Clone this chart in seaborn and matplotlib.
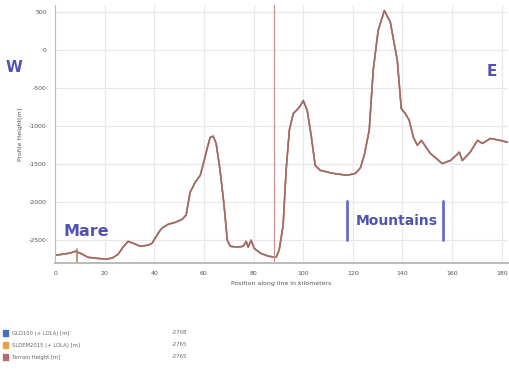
import matplotlib
matplotlib.use("Agg")
import matplotlib.pyplot as plt
import seaborn as sns
import pandas as pd

# Profile along the line: distance (km) and height (m)
position_km = [0, 2.8, 6.0, 8.1, 10.1, 13.3, 16.1, 20.2, 23.0, 25.4, 27.4, 29.4, 31.5,
               34.3, 37.5, 39.1, 40.3, 42.3, 43.5, 45.6, 48.4, 51.2, 52.8, 54.4, 56.5,
               58.5, 60.1, 61.3, 62.5, 63.7, 64.9, 66.5, 68.1, 69.4, 70.6, 73.4, 75.8,
               77.0, 77.8, 79.0, 80.2, 82.7, 85.9, 89.1, 90.3, 91.9, 93.1, 94.4, 96.0,
               98.0, 99.2, 100.0, 101.6, 103.2, 104.8, 106.9, 112.1, 117.7, 121.0, 123.0,
               124.6, 126.6, 128.2, 130.2, 132.7, 135.1, 137.9, 139.5, 141.1, 142.7,
               144.4, 146.0, 147.6, 151.2, 156.0, 159.3, 161.7, 162.9, 164.1, 167.3,
               170.2, 172.2, 175.4, 179.4, 182.3]
terrain_height = [-2700, -2685, -2670, -2645, -2670, -2725, -2735, -2750, -2735, -2685,
                  -2590, -2515, -2540, -2580, -2565, -2540, -2475, -2370, -2330, -2290,
                  -2265, -2225, -2170, -1870, -1735, -1645, -1450, -1290, -1145, -1130,
                  -1225, -1580, -2040, -2500, -2580, -2590, -2580, -2515, -2590, -2500,
                  -2605, -2670, -2710, -2725, -2630, -2300, -1580, -1050, -830, -765,
                  -710, -660, -790, -1120, -1515, -1580, -1620, -1645, -1620, -1550,
                  -1380, -1050, -260, 265, 525, 370, -130, -765, -830, -920, -1145,
                  -1250, -1185, -1355, -1490, -1450, -1380, -1340, -1450, -1340, -1185,
                  -1225, -1160, -1185, -1210]

series_names = ["GLD100 (+ LOLA) [m]", "SLDEM2015 (+ LOLA) [m]", "Terrain Height [m]"]
series_colors = ["#4a6fb5", "#e8a040", "#b86a6a"]
cursor_values = ["-2708", "-2765", "-2765"]

x_ticks = [0, 20, 40, 60, 80, 100, 120, 140, 160, 180]
y_ticks = [500, 0, -500, -1000, -1500, -2000, -2500]

cursor_km = 88.3
marker_km = 8.9

sns.set_style("white")
plt.rcParams["font.family"] = ["DejaVu Sans"]

fig = plt.figure(figsize=(5.10, 3.72), dpi=100)
ax = fig.add_axes([0.108, 0.293, 0.888, 0.694])

frames = []
for name in series_names:
    frames.append(pd.DataFrame({"km": position_km, "m": terrain_height, "series": name}))
df = pd.concat(frames, ignore_index=True)

sns.lineplot(data=df, x="km", y="m", hue="series", palette=series_colors,
             hue_order=series_names, ax=ax, legend=False, linewidth=1.1,
             sort=False, estimator=None)
# darker core on the top series
sns.lineplot(x=position_km, y=terrain_height, ax=ax, color="#8e6e6e",
             linewidth=0.5, sort=False, estimator=None)

ax.set_xlim(0, 182.5)
ax.set_ylim(-2800, 600)
ax.set_xticks(x_ticks)
ax.set_yticks(y_ticks)
ax.set_xticklabels([str(t) for t in x_ticks], fontsize=4.5, color="#555555")
ax.set_yticklabels([str(t) for t in y_ticks], fontsize=4.5, color="#555555")
ax.grid(True, color="#e8e8e8", linewidth=0.9)
ax.set_axisbelow(True)
ax.tick_params(axis="both", length=4, width=0.8, color="#aaaaaa", pad=2)
for side in ["top", "right"]:
    ax.spines[side].set_visible(False)
ax.spines["left"].set_color("#bbbbbb")
ax.spines["bottom"].set_color("#bbbbbb")
ax.spines["bottom"].set_linewidth(1.4)
ax.set_xlabel("Position along line in kilometers", fontsize=4.5, color="#555555", labelpad=3)
ax.set_ylabel("Profile Height[m]", fontsize=4.5, color="#555555", labelpad=4)

# cursor line and small marker
ax.axvline(cursor_km, color="#c89494", linewidth=0.9)
ax.plot([marker_km, marker_km], [-2800, -2620], color="#b08060", linewidth=1.2)

label_color = "#5252b4"
fig.text(14 / 510, 1 - 68 / 372, "W", fontsize=11, fontweight="bold", color=label_color,
         ha="center", va="center")
fig.text(492 / 510, 1 - 72 / 372, "E", fontsize=11, fontweight="bold", color=label_color,
         ha="center", va="center")
fig.text(86 / 510, 1 - 232 / 372, "Mare", fontsize=11.5, fontweight="bold", color=label_color,
         ha="center", va="center")
fig.text(397 / 510, 1 - 221 / 372, "Mountains", fontsize=10, fontweight="bold",
         color=label_color, ha="center", va="center")
for bx in (347, 443):
    fig.add_artist(plt.Line2D([bx / 510, bx / 510], [1 - 201 / 372, 1 - 240 / 372],
                              color="#6a6ac8", linewidth=2.0))

# legend rows below the chart
for i, (name, col, val) in enumerate(zip(series_names, series_colors, cursor_values)):
    y = 1 - (333 + 12 * i) / 372
    fig.patches.append(plt.Rectangle((3 / 510, y - 0.008), 5 / 510, 0.016,
                                     transform=fig.transFigure, color=col, figure=fig))
    fig.text(12 / 510, y, name, fontsize=3.8, color="#666666", va="center")
    fig.text(172 / 510, y, val, fontsize=3.8, color="#666666", va="center")

fig.savefig("out.png", dpi=100)
